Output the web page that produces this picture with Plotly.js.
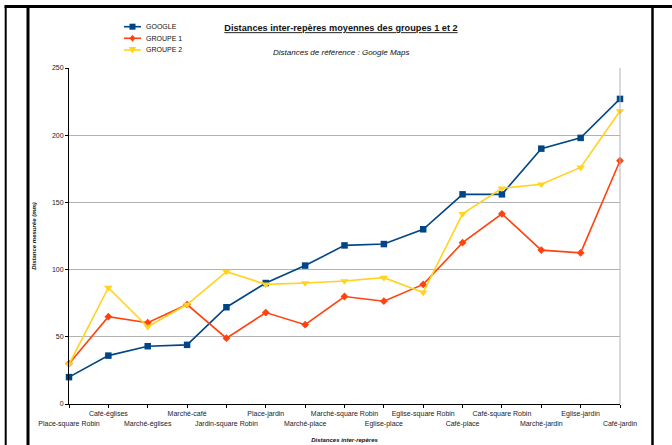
<!DOCTYPE html>
<html>
<head>
<meta charset="utf-8">
<script src="https://cdn.plot.ly/plotly-3.0.1.min.js"></script>
<style>html,body{margin:0;padding:0;background:#fff}#chart{width:672px;height:445px}</style>
</head>
<body>
<div id="chart"></div>
<script>
const categories = ["Place-square Robin","Café-églises","Marché-églises","Marché-café","Jardin-square Robin","Place-jardin","Marché-place","Marché-square Robin","Eglise-place","Eglise-square Robin","Café-place","Café-square Robin","Marché-jardin","Eglise-jardin","Café-jardin"];
const google = [20, 36, 43, 44, 72, 90, 103, 118, 119, 130, 156, 156, 190, 198, 227];
const groupe1 = [30, 65, 60.5, 74, 49, 68, 59, 80, 76.5, 89, 120, 141.5, 114.5, 112.5, 181];
const groupe2 = [29.5, 86.5, 57.5, 74, 98.5, 89, 90, 91.5, 94, 83, 141.5, 160.5, 163.5, 176, 218];
const seriesNames = ["GOOGLE", "GROUPE 1", "GROUPE 2"];
const yTicks = [0, 50, 100, 150, 200, 250];

const colors = ["#004586", "#ff420e", "#ffd320"];
const symbols = ["square", "diamond", "triangle-down"];
const sizes = [6.5, 6, 7.5];
const FONT = "Liberation Sans, Arial, sans-serif";

const xIdx = categories.map((c, i) => i);
const tickText = categories.map((c, i) => i % 2 === 0 ? "<br>" + c : c);

const data = [google, groupe1, groupe2].map((vals, k) => ({
  type: "scatter", mode: "lines+markers", name: seriesNames[k],
  x: xIdx, y: vals,
  line: {color: colors[k], width: 1.6},
  marker: {color: colors[k], symbol: symbols[k], size: sizes[k]},
  cliponaxis: false, showlegend: false
}));

// plot area geometry (px) for converting frame / legend positions
const L = 69, R = 620, T = 68, B = 404;
const px = v => (v - L) / (R - L);
const py = v => (B - v) / (B - T);

const shapes = [
  // outer frame
  {type: "line", xref: "paper", yref: "paper", x0: px(4.5), x1: px(672), y0: py(6.5), y1: py(6.5), line: {color: "#000", width: 3}},
  {type: "line", xref: "paper", yref: "paper", x0: px(5.7), x1: px(5.7), y0: py(6.5), y1: py(446), line: {color: "#000", width: 2}},
  {type: "line", xref: "paper", yref: "paper", x0: px(28), x1: px(28), y0: py(6.5), y1: py(446), line: {color: "#000", width: 3}},
  {type: "line", xref: "paper", yref: "paper", x0: px(652.5), x1: px(652.5), y0: py(6.5), y1: py(446), line: {color: "#000", width: 2.5}},
  // right border of plot
  {type: "line", xref: "paper", yref: "paper", x0: 1, x1: 1, y0: 0, y1: 1, line: {color: "#b3b3b3", width: 1}}
];

const annotations = [
  {xref: "paper", yref: "paper", x: px(341), y: py(52.7), text: "<i>Distances de référence : Google Maps</i>", showarrow: false, xanchor: "center", yanchor: "middle", font: {family: FONT, size: 8, color: "#111"}}
];

// manual legend
const legY = [26.7, 38.3, 50];
const markerPaths = [
  "M-3,-3 L3,-3 L3,3 L-3,3 Z",
  "M0,3.5 L3,0 L0,-3.5 L-3,0 Z",
  "M-3.8,3 L3.8,3 L0,-3.5 Z"
];
seriesNames.forEach((n, k) => {
  shapes.push({type: "line", xref: "paper", yref: "paper", x0: px(124), x1: px(141), y0: py(legY[k]), y1: py(legY[k]), line: {color: colors[k], width: 1.6}});
  shapes.push({type: "path", xref: "paper", yref: "paper", xsizemode: "pixel", ysizemode: "pixel", xanchor: px(132.5), yanchor: py(legY[k]), path: markerPaths[k], fillcolor: colors[k], line: {width: 0}});
  annotations.push({xref: "paper", yref: "paper", x: px(144), y: py(legY[k]), text: n, showarrow: false, xanchor: "left", yanchor: "middle", font: {family: FONT, size: 7, color: "#111"}});
});

const layout = {
  width: 672, height: 445,
  margin: {l: L, r: 672 - R, t: T, b: 445 - B, pad: 0},
  paper_bgcolor: "#fff", plot_bgcolor: "#fff",
  font: {family: FONT, size: 7, color: "#222"},
  showlegend: false,
  title: {
    text: "<b><u>Distances inter-repères moyennes des groupes 1 et 2</u></b>",
    xref: "paper", x: px(341), xanchor: "center",
    yref: "container", y: 1 - 28 / 445, yanchor: "middle",
    font: {family: FONT, size: 9.2, color: "#111"}
  },
  xaxis: {
    range: [0, categories.length - 1],
    tickmode: "array", tickvals: xIdx, ticktext: tickText,
    showgrid: false, zeroline: false,
    showline: true, linecolor: "#000", linewidth: 1,
    ticks: "outside", ticklen: 3, tickcolor: "#000", tickwidth: 1,
    tickfont: {family: FONT, size: 7, color: "#222"},
    tickangle: 0,
    title: {text: "<b><i>Distances inter-repères</i></b>", font: {family: FONT, size: 6, color: "#111"}, standoff: 11}
  },
  yaxis: {
    range: [0, 250],
    tickmode: "array", tickvals: yTicks,
    showgrid: true, gridcolor: "#b3b3b3", gridwidth: 1,
    zeroline: false,
    showline: true, linecolor: "#000", linewidth: 1,
    ticks: "outside", ticklen: 3, tickcolor: "#000", tickwidth: 1,
    tickfont: {family: FONT, size: 7, color: "#222"},
    title: {text: "<b><i>Distance mesurée (mm)</i></b>", font: {family: FONT, size: 6, color: "#111"}, standoff: 14}
  },
  shapes: shapes,
  annotations: annotations
};

Plotly.newPlot("chart", data, layout, {staticPlot: true, displayModeBar: false});
</script>
</body>
</html>
